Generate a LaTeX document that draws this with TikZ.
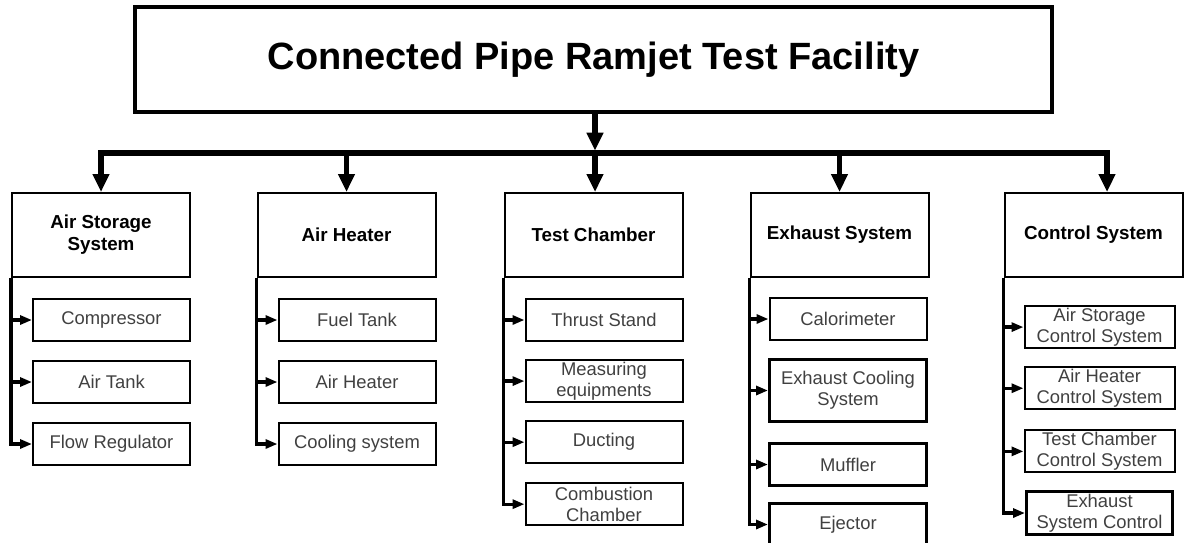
\documentclass[tikz,border=0pt]{standalone}
\usepackage{fontspec}
\setmainfont{Liberation Sans}
\usetikzlibrary{arrows.meta,positioning}

\begin{document}
\begin{tikzpicture}[
    x=0.5pt, y=0.5pt,
    head/.style={rectangle, draw, line width=1.8pt, minimum width=458.5pt,
      minimum height=52.5pt, font=\fontsize{19}{22}\selectfont\bfseries},
    unit/.style={rectangle, draw, line width=1pt, minimum width=89pt,
      minimum height=42pt, align=center, font=\fontsize{9.4}{11}\selectfont\bfseries},
    part/.style={rectangle, draw, line width=1pt, minimum width=78.5pt,
      minimum height=21pt, inner sep=1pt, align=center, text=black!75,
      font=\fontsize{9.2}{10.5}\selectfont},
    heavy/.style={line width=1.5pt},
    trunk/.style={-{Triangle[length=9pt, width=8pt]}, line width=2.75pt},
    spine/.style={-{Triangle[length=6pt, width=4.5pt]}, line width=1.6pt},
    node distance=9pt,
  ]
    \useasboundingbox (0,0) rectangle (1185,-542);

    % Title and main units
    \node[head] (title) at (593.5,-59.5) {Connected Pipe Ramjet Test Facility};
    \node[unit] (ast) at (101,-235)    {Air Storage\\System};
    \node[unit] (aht) at (346.5,-235)  {Air Heater};
    \node[unit] (tch) at (593.5,-235)  {Test Chamber};
    \node[unit] (exh) at (839.5,-235)  {Exhaust System};
    \node[unit] (ctl) at (1093.5,-235) {Control System};

    % Air storage
    \node[part, below=10pt of ast.south east, anchor=north east] (comp) {Compressor};
    \node[part, below=of comp] (tank) {Air Tank};
    \node[part, below=of tank] (flow) {Flow Regulator};

    % Air heater
    \node[part, below=10pt of aht.south east, anchor=north east] (fuel) {Fuel Tank};
    \node[part, below=of fuel] (heat) {Air Heater};
    \node[part, below=of heat] (cool) {Cooling system};

    % Test chamber
    \node[part, below=10pt of tch.south east, anchor=north east] (thrust) {Thrust Stand};
    \node[part, below=8.5pt of thrust] (meas) {Measuring\\equipments};
    \node[part, below=8.5pt of meas] (duct) {Ducting};
    \node[part, below=of duct] (comb) {Combustion\\Chamber};

    % Exhaust system
    \node[part, below=9.5pt of exh.south east, anchor=north east, xshift=-1pt] (calo) {Calorimeter};
    \node[part, heavy, minimum height=31pt, below=8.5pt of calo] (excool) {Exhaust Cooling\\System};
    \node[part, heavy, below=9.5pt of excool] (muff) {Muffler};
    \node[part, heavy, below=7.5pt of muff] (ejec) {Ejector};

    % Control system
    \node[part, minimum width=75pt, below=13.5pt of ctl.south east, anchor=north east, xshift=-4pt] (asc) {Air Storage\\Control System};
    \node[part, minimum width=75pt, below=8.5pt of asc] (ahc) {Air Heater\\Control System};
    \node[part, minimum width=75pt, below=9.5pt of ahc] (tcc) {Test Chamber\\Control System};
    \node[part, heavy, minimum width=73pt, below=8.5pt of tcc] (esc) {Exhaust\\System Control};

    % Bus
    \coordinate (bus) at (595,-153);
    \coordinate (ctlin) at ([xshift=6.75pt]ctl.north);
    \draw[trunk, shorten >=1.2pt] (title.south -| bus) -- (bus);
    \draw[trunk] (bus) -| (ast.north);
    \draw[trunk] (bus) -| (ctlin);
    \draw[trunk] (bus -| aht.north) -- (aht.north);
    \draw[trunk] (bus) -- (bus |- tch.north);
    \draw[trunk] (bus -| exh.north) -- (exh.north);

    % Spines
    \draw[spine] (ast.south west) |- (flow.west);
    \draw[spine] (ast.south west |- comp.west) -- (comp.west);
    \draw[spine] (ast.south west |- tank.west) -- (tank.west);

    \draw[spine] (aht.south west) |- (cool.west);
    \draw[spine] (aht.south west |- fuel.west) -- (fuel.west);
    \draw[spine] (aht.south west |- heat.west) -- (heat.west);

    \draw[spine] (tch.south west) |- (comb.west);
    \draw[spine] (tch.south west |- thrust.west) -- (thrust.west);
    \draw[spine] (tch.south west |- meas.west) -- (meas.west);
    \draw[spine] (tch.south west |- duct.west) -- (duct.west);

    \draw[spine] (exh.south west) |- (ejec.west);
    \draw[spine] (exh.south west |- calo.west) -- (calo.west);
    \draw[spine] (exh.south west |- excool.west) -- (excool.west);
    \draw[spine] (exh.south west |- muff.west) -- (muff.west);

    \draw[spine] (ctl.south west) |- (esc.west);
    \draw[spine] (ctl.south west |- asc.west) -- (asc.west);
    \draw[spine] (ctl.south west |- ahc.west) -- (ahc.west);
    \draw[spine] (ctl.south west |- tcc.west) -- (tcc.west);
  \end{tikzpicture}
\end{document}
